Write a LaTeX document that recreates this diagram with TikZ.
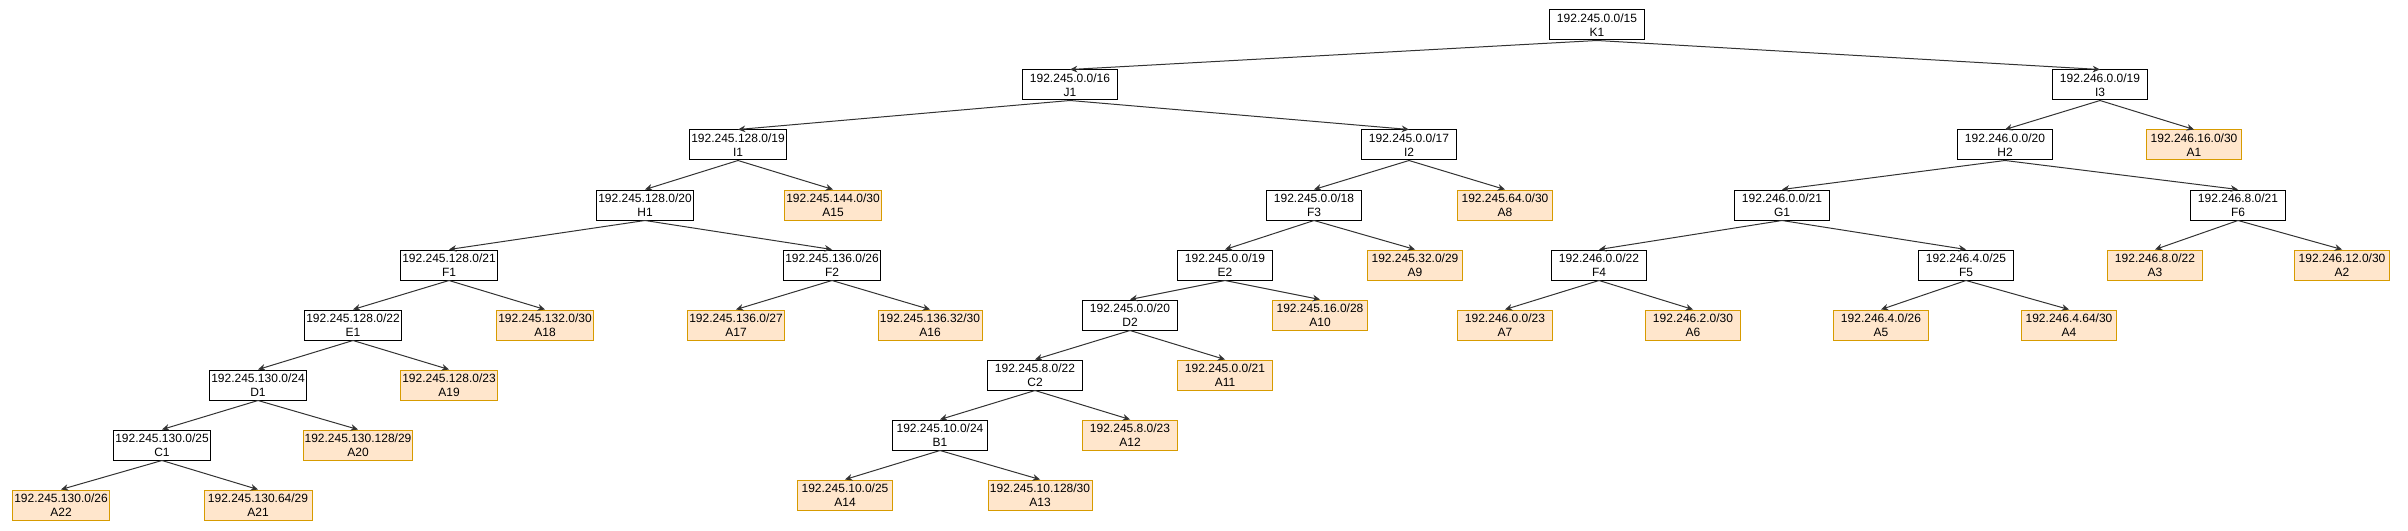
\documentclass[tikz,border=0pt]{standalone}
\usepackage{fontspec}
\setmainfont{Liberation Sans}
\usepackage{xcolor}
\usepackage{tikz}
\usetikzlibrary{arrows.meta, positioning}
\definecolor{leaffill}{HTML}{FFE6CC}
\definecolor{leafdraw}{HTML}{D79B00}
\definecolor{linkgray}{HTML}{333333}

\begin{document}
\begin{tikzpicture}[
    x=0.75pt, y=-0.75pt,
    net/.style={draw, line width=0.75pt, fill=white, minimum width=71.25pt, minimum height=22.5pt, inner sep=1pt, align=center, font=\fontsize{9}{10.8}\selectfont},
    leaf/.style={net, draw=leafdraw, fill=leaffill},
    link/.style={-{Stealth[length=5.5pt, width=5pt]}, line width=0.75pt, draw=linkgray}
]
    \useasboundingbox (0,0) rectangle (2408,531);
    % inner networks
    \node[net] at (1597,25) (k1) {192.245.0.0/15\\K1};
    \node[net] at (1070,85) (j1) {192.245.0.0/16\\J1};
    \node[net] at (2100,85) (i3) {192.246.0.0/19\\I3};
    \node[net] at (738,145) (i1) {192.245.128.0/19\\I1};
    \node[net] at (1409,145) (i2) {192.245.0.0/17\\I2};
    \node[net] at (2005,145) (h2) {192.246.0.0/20\\H2};
    \node[net] at (645,205) (h1) {192.245.128.0/20\\H1};
    \node[net] at (1314,205) (f3) {192.245.0.0/18\\F3};
    \node[net] at (1782,205) (g1) {192.246.0.0/21\\G1};
    \node[net] at (2238,205) (f6) {192.246.8.0/21\\F6};
    \node[net] at (449,265) (f1) {192.245.128.0/21\\F1};
    \node[net] at (832,265) (f2) {192.245.136.0/26\\F2};
    \node[net] at (1225,265) (e2) {192.245.0.0/19\\E2};
    \node[net] at (1599,265) (f4) {192.246.0.0/22\\F4};
    \node[net] at (1966,265) (f5) {192.246.4.0/25\\F5};
    \node[net] at (353,325) (e1) {192.245.128.0/22\\E1};
    \node[net] at (1130,315) (d2) {192.245.0.0/20\\D2};
    \node[net] at (258,385) (d1) {192.245.130.0/24\\D1};
    \node[net] at (1035,375) (c2) {192.245.8.0/22\\C2};
    \node[net] at (162,445) (c1) {192.245.130.0/25\\C1};
    \node[net] at (940,435) (b1) {192.245.10.0/24\\B1};
    % leaf subnets
    \node[leaf] at (2194,145) (a1) {192.246.16.0/30\\A1};
    \node[leaf] at (2342,265) (a2) {192.246.12.0/30\\A2};
    \node[leaf] at (2155,265) (a3) {192.246.8.0/22\\A3};
    \node[leaf] at (2069,325) (a4) {192.246.4.64/30\\A4};
    \node[leaf] at (1881,325) (a5) {192.246.4.0/26\\A5};
    \node[leaf] at (1693,325) (a6) {192.246.2.0/30\\A6};
    \node[leaf] at (1505,325) (a7) {192.246.0.0/23\\A7};
    \node[leaf] at (1505,205) (a8) {192.245.64.0/30\\A8};
    \node[leaf] at (1415,265) (a9) {192.245.32.0/29\\A9};
    \node[leaf] at (1320,315) (a10) {192.245.16.0/28\\A10};
    \node[leaf] at (1225,375) (a11) {192.245.0.0/21\\A11};
    \node[leaf] at (1130,435) (a12) {192.245.8.0/23\\A12};
    \node[leaf, minimum width=78pt] at (1040,495) (a13) {192.245.10.128/30\\A13};
    \node[leaf] at (845,495) (a14) {192.245.10.0/25\\A14};
    \node[leaf] at (833,205) (a15) {192.245.144.0/30\\A15};
    \node[leaf, minimum width=78pt] at (930,325) (a16) {192.245.136.32/30\\A16};
    \node[leaf] at (736,325) (a17) {192.245.136.0/27\\A17};
    \node[leaf] at (545,325) (a18) {192.245.132.0/30\\A18};
    \node[leaf] at (449,385) (a19) {192.245.128.0/23\\A19};
    \node[leaf, minimum width=81pt] at (358,445) (a20) {192.245.130.128/29\\A20};
    \node[leaf, minimum width=81pt] at (258,505) (a21) {192.245.130.64/29\\A21};
    \node[leaf] at (61,505) (a22) {192.245.130.0/26\\A22};
    % links
    \draw[link] (k1.south) -- (j1.north);
    \draw[link] (k1.south) -- (i3.north);
    \draw[link] (j1.south) -- (i1.north);
    \draw[link] (j1.south) -- (i2.north);
    \draw[link] (i3.south) -- (h2.north);
    \draw[link] (i3.south) -- (a1.north);
    \draw[link] (i1.south) -- (h1.north);
    \draw[link] (i1.south) -- (a15.north);
    \draw[link] (i2.south) -- (f3.north);
    \draw[link] (i2.south) -- (a8.north);
    \draw[link] (h2.south) -- (g1.north);
    \draw[link] (h2.south) -- (f6.north);
    \draw[link] (h1.south) -- (f1.north);
    \draw[link] (h1.south) -- (f2.north);
    \draw[link] (f3.south) -- (e2.north);
    \draw[link] (f3.south) -- (a9.north);
    \draw[link] (g1.south) -- (f4.north);
    \draw[link] (g1.south) -- (f5.north);
    \draw[link] (f6.south) -- (a3.north);
    \draw[link] (f6.south) -- (a2.north);
    \draw[link] (f1.south) -- (e1.north);
    \draw[link] (f1.south) -- (a18.north);
    \draw[link] (f2.south) -- (a17.north);
    \draw[link] (f2.south) -- (a16.north);
    \draw[link] (e2.south) -- (d2.north);
    \draw[link] (e2.south) -- (a10.north);
    \draw[link] (f4.south) -- (a7.north);
    \draw[link] (f4.south) -- (a6.north);
    \draw[link] (f5.south) -- (a5.north);
    \draw[link] (f5.south) -- (a4.north);
    \draw[link] (e1.south) -- (d1.north);
    \draw[link] (e1.south) -- (a19.north);
    \draw[link] (d2.south) -- (c2.north);
    \draw[link] (d2.south) -- (a11.north);
    \draw[link] (d1.south) -- (c1.north);
    \draw[link] (d1.south) -- (a20.north);
    \draw[link] (c2.south) -- (b1.north);
    \draw[link] (c2.south) -- (a12.north);
    \draw[link] (c1.south) -- (a22.north);
    \draw[link] (c1.south) -- (a21.north);
    \draw[link] (b1.south) -- (a14.north);
    \draw[link] (b1.south) -- (a13.north);
\end{tikzpicture}
\end{document}
